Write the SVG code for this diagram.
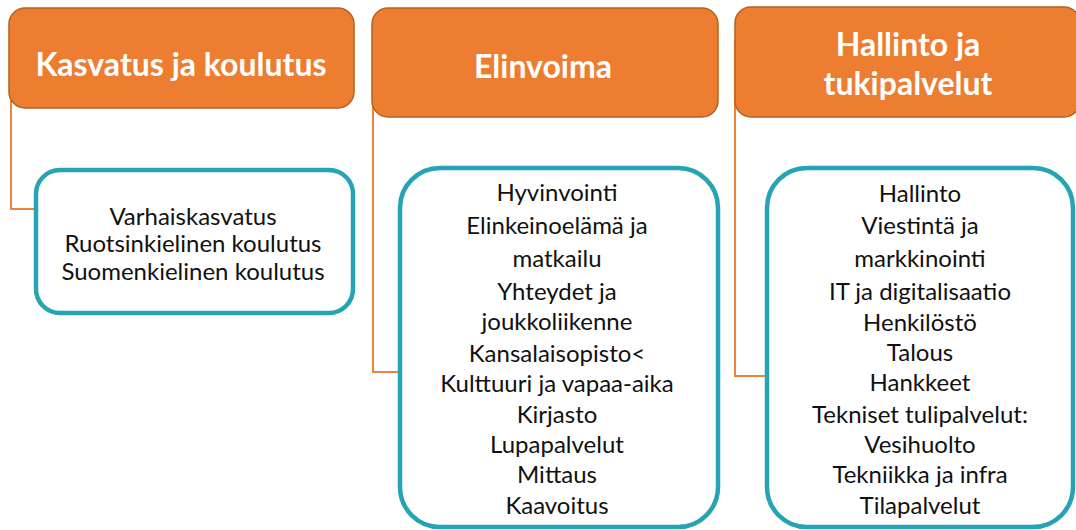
<svg xmlns="http://www.w3.org/2000/svg" width="1076" height="530" viewBox="0 0 1076 530">
<style>
.hdr{fill:#ED7D31;stroke:#B5621F;stroke-width:1.5}
.ht{font-family:Lato,"Open Sans",sans-serif;font-weight:bold;font-size:32px;fill:#FFFFFF;text-anchor:middle;dominant-baseline:central}
.box{fill:#FFFFFF;stroke:#27A4B3;stroke-width:4.5}
.bt{font-family:Lato,"Open Sans",sans-serif;font-size:24px;fill:#111111;text-anchor:middle;dominant-baseline:central}
.con{fill:none;stroke:#E8843F;stroke-width:2}
</style>
<rect width="1076" height="530" fill="#FFFFFF"/>
<g id="connectors">
<path class="con" d="M11,100 V209 H36"/>
<path class="con" d="M373,98 V372 H400"/>
<path class="con" d="M735,40 V376 H768"/>
</g>
<g id="h1"><rect class="hdr" x="9" y="8" width="345" height="100" rx="16"/><text class="ht" x="181" y="63">Kasvatus ja koulutus</text></g>
<g id="h2"><rect class="hdr" x="372" y="8" width="346" height="109" rx="16"/><text class="ht" x="543" y="65">Elinvoima</text></g>
<g id="h3"><rect class="hdr" x="735" y="7" width="345" height="110" rx="16"/><text class="ht" x="908" y="43">Hallinto ja</text><text class="ht" x="908" y="82">tukipalvelut</text></g>
<g id="b1"><rect class="box" x="36" y="170" width="317" height="143" rx="24"/>
<text class="bt" x="193" y="215">Varhaiskasvatus</text>
<text class="bt" x="193" y="242">Ruotsinkielinen koulutus</text>
<text class="bt" x="193" y="270">Suomenkielinen koulutus</text></g>
<g id="b2"><rect class="box" x="400" y="168" width="318" height="359" rx="40"/>
<text class="bt" x="557" y="191">Hyvinvointi</text>
<text class="bt" x="557" y="224">Elinkeinoelämä ja</text>
<text class="bt" x="557" y="257">matkailu</text>
<text class="bt" x="557" y="290">Yhteydet ja</text>
<text class="bt" x="557" y="320">joukkoliikenne</text>
<text class="bt" x="557" y="352">Kansalaisopisto&lt;</text>
<text class="bt" x="557" y="382">Kulttuuri ja vapaa-aika</text>
<text class="bt" x="557" y="413">Kirjasto</text>
<text class="bt" x="557" y="443">Lupapalvelut</text>
<text class="bt" x="557" y="473">Mittaus</text>
<text class="bt" x="557" y="504">Kaavoitus</text></g>
<g id="b3"><rect class="box" x="767" y="168" width="306" height="359" rx="40"/>
<text class="bt" x="920" y="192">Hallinto</text>
<text class="bt" x="920" y="224">Viestintä ja</text>
<text class="bt" x="920" y="257">markkinointi</text>
<text class="bt" x="920" y="290">IT ja digitalisaatio</text>
<text class="bt" x="920" y="321">Henkilöstö</text>
<text class="bt" x="920" y="351">Talous</text>
<text class="bt" x="920" y="381">Hankkeet</text>
<text class="bt" x="920" y="413">Tekniset tulipalvelut:</text>
<text class="bt" x="920" y="443">Vesihuolto</text>
<text class="bt" x="920" y="473">Tekniikka ja infra</text>
<text class="bt" x="920" y="504">Tilapalvelut</text></g>
</svg>
